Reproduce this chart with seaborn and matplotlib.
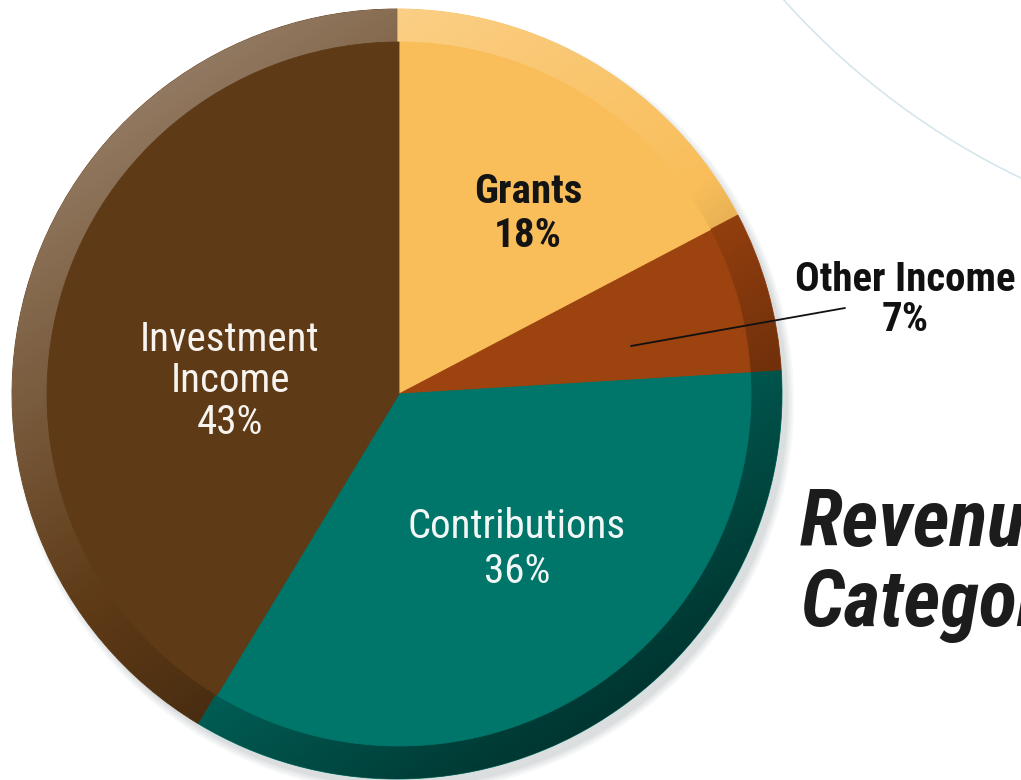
import numpy as np
import matplotlib
matplotlib.use("Agg")
import matplotlib.pyplot as plt
import seaborn as sns
from matplotlib.patches import Circle
from matplotlib import font_manager

# ---- data ----
categories = ["Grants", "Other Income", "Contributions", "Investment\nIncome"]
values = [18, 7, 36, 43]
pct_labels = ["18%", "7%", "36%", "43%"]
title_text = "Revenue\nCategory"

face_colors = ["#F9BE5A", "#9C430F", "#00756A", "#5E3A16"]

sns.set_theme(style="white")
installed = {f.name for f in font_manager.fontManager.ttflist}
fams = [f for f in ['Roboto Condensed', 'Liberation Sans Narrow', 'Roboto', 'DejaVu Sans'] if f in installed]
condensed = fams[0] in ('Roboto Condensed', 'Liberation Sans Narrow')
plt.rcParams['font.family'] = fams

fs = 29.5 if condensed else 25
W, H = 1021, 780
fig = plt.figure(figsize=(W / 100, H / 100), dpi=100)
ax = fig.add_axes([0, 0, 1, 1])
ax.set_xlim(0, W)
ax.set_ylim(0, H)
ax.set_aspect('equal')
ax.axis('off')

cx, cy, R = 397, 780 - 394, 385
r_in = 352

# faint decorative arc top-right
arc = Circle((1350, 780 + 507), 760, fill=False, edgecolor="#d6e6ec", linewidth=1.2, zorder=0)
ax.add_patch(arc)

# soft shadow
for i, a in enumerate([0.05, 0.05, 0.06, 0.07]):
    ax.add_patch(Circle((cx + 6, cy - 8), R + 6 - 2 * i, facecolor="#606870", alpha=a,
                        edgecolor="none", zorder=0.5))

# rim (outer pie)
w_out, _ = ax.pie(values, colors=face_colors, startangle=90, counterclock=False,
                  center=(cx, cy), radius=R, frame=True,
                  wedgeprops=dict(linewidth=0.6, zorder=1))
for w in w_out:
    w.set_edgecolor(w.get_facecolor())

# lighting gradient on the rim
n = 400
xs = np.linspace(-1, 1, n)
X, Y = np.meshgrid(xs, xs[::-1])
ang = np.deg2rad(125)
p = X * np.cos(ang) + Y * np.sin(ang)
rgba = np.zeros((n, n, 4))
light = np.clip(p, 0, None)
dark = np.clip(-p, 0, None)
rgba[..., :3] = np.where(p[..., None] > 0, 1.0, 0.0)
rgba[..., 3] = np.where(p > 0, 0.32 * light, 0.55 * dark)
im = ax.imshow(rgba, extent=[cx - R, cx + R, cy - R, cy + R], zorder=2, interpolation='bilinear')
clip = Circle((cx, cy), R, transform=ax.transData)
im.set_clip_path(clip)

# inner face
w_in, _ = ax.pie(values, colors=face_colors, startangle=90, counterclock=False,
                 center=(cx + 2, cy), radius=r_in, frame=True,
                 wedgeprops=dict(linewidth=0.6, zorder=3))
for w in w_in:
    w.set_edgecolor(w.get_facecolor())

ax.set_xlim(0, W)
ax.set_ylim(0, H)
ax.axis('off')

# labels
ax.text(528, 780 - 214, f"{categories[0]}\n{pct_labels[0]}", ha='center', va='center',
        fontsize=fs, color="#141414", fontweight='bold', linespacing=1.17, zorder=6)
ax.text(230, 780 - 381, f"{categories[3]}\n{pct_labels[3]}", ha='center', va='center',
        fontsize=fs, color="#f7f3ee", fontweight='normal', linespacing=1.08, zorder=6)
ax.text(517, 780 - 549, f"{categories[2]}\n{pct_labels[2]}", ha='center', va='center',
        fontsize=fs, color="#f2f7f5", fontweight='normal', linespacing=1.17, zorder=6)
ax.text(905, 780 - 300, f"{categories[1]}\n{pct_labels[1]}", ha='center', va='center',
        fontsize=fs, color="#111111", fontweight='bold', linespacing=1.05, zorder=6)
ax.plot([631, 845], [780 - 346, 780 - 308], color="#111111", linewidth=1.3, zorder=6)

ax.text(800, 780 - 565, title_text, ha='left', va='center', fontsize=57,
        fontweight='black', fontstyle='italic', color="#1c1c1c", linespacing=1.08, zorder=6)

fig.savefig("out.png", dpi=100)
